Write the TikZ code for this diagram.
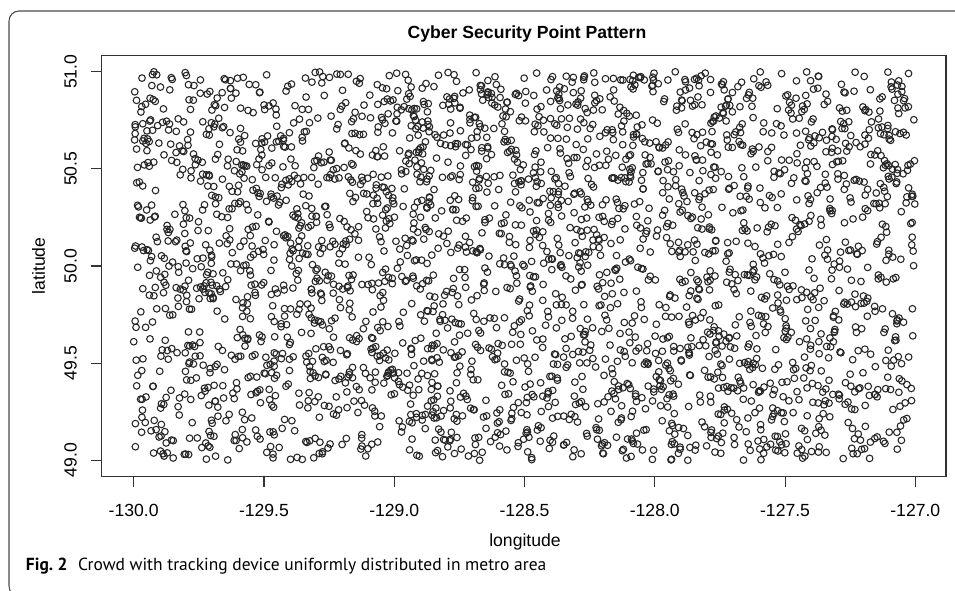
\documentclass[tikz,border=0pt]{standalone}
\usepackage{fontspec}
\setmainfont{Liberation Sans}
\newfontfamily\capfont{PT Sans}
\begin{document}
\begin{tikzpicture}[x=0.75pt,y=-0.75pt,
  every node/.style={inner sep=0pt,outer sep=0pt},
  plotfont/.style={font=\fontsize{13.2pt}{15pt}\selectfont},
  pointmark/.style={draw=black!85,line width=0.8pt},
  axisline/.style={draw=black!80,line width=0.8pt},
  framebox/.style={draw=black!70,line width=0.8pt,rounded corners=7.5pt}]
\useasboundingbox (0,0) rectangle (955,590);
% outer figure frame (runs off the right and bottom edges)
\begin{scope}
  \clip (0,0) rectangle (955,590);
  \draw[framebox] (9,11) rectangle (985,596);
\end{scope}
% title
\node[plotfont,font=\fontsize{13.2pt}{15pt}\selectfont\bfseries] (title) at (527,34) {Cyber Security Point Pattern};
% plot box
\draw[axisline] (101.7,55.7) rectangle (946,476.7);
% points: uniform over longitude -130..-127, latitude 49..51
\pgfmathsetseed{2718}
\foreach \k in {1,...,3000}{
  \pgfmathsetmacro{\px}{133.7+781.6*rnd}
  \pgfmathsetmacro{\py}{71.7+388.6*rnd}
  \draw[pointmark] (\px,\py) circle[radius=2.5pt];
}
% x axis
\draw[axisline] (133.7,476.7) -- (915.3,476.7);
\foreach \lab [count=\i from 0] in {-130.0,-129.5,-129.0,-128.5,-128.0,-127.5,-127.0}{
  \pgfmathsetmacro{\tx}{133.7+130.27*\i}
  \draw[axisline] (\tx,476.7) -- (\tx,487.3);
  \node[plotfont] (xl\i) at (\tx,510) {\lab};
}
\node[plotfont] (xlabel) at (525,541.5) {longitude};
% y axis
\foreach \lab [count=\i from 0] in {49.0,49.5,50.0,50.5,51.0}{
  \pgfmathsetmacro{\ty}{460.3-97.15*\i}
  \draw[axisline] (91,\ty) -- (101.7,\ty);
  \node[plotfont,rotate=90] (yl\i) at (70.5,\ty) {\lab};
}
\node[plotfont,rotate=90] (ylabel) at (38.5,266) {latitude};
% caption
\node[anchor=base west,font=\capfont\fontsize{13.1pt}{15pt}\selectfont] (caption) at (26,570)
  {\textbf{Fig.~2}\hspace{0.6em}Crowd with tracking device uniformly distributed in metro area};
\end{tikzpicture}
\end{document}
